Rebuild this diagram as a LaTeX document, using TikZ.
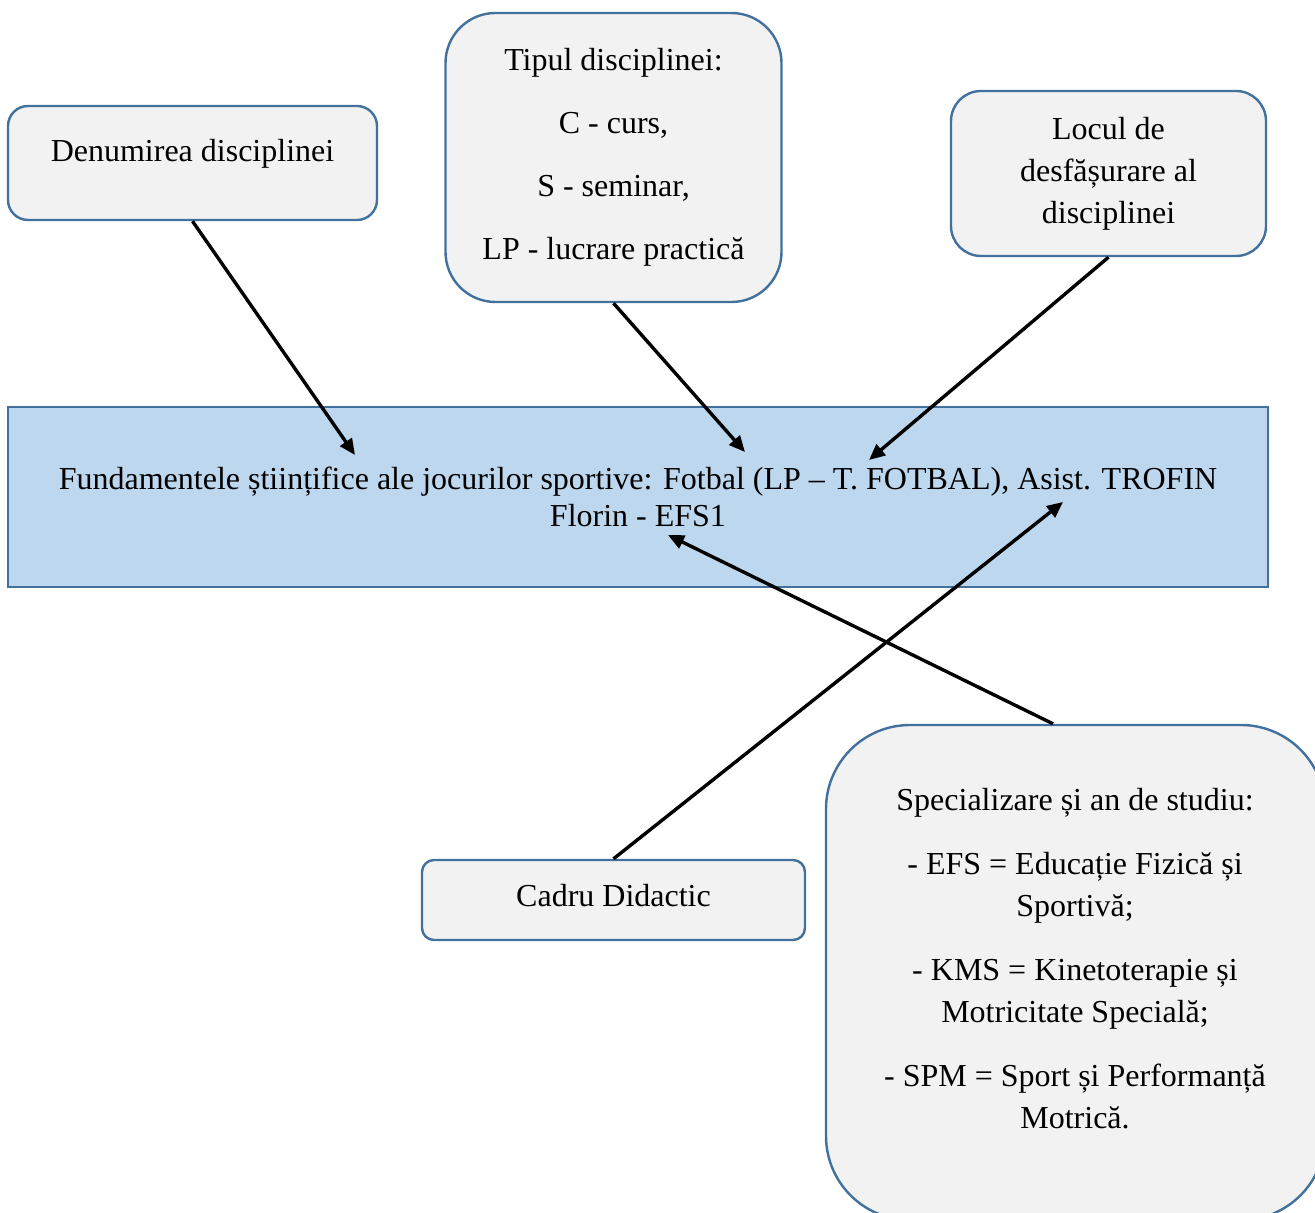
\documentclass[tikz,border=0pt]{standalone}
\usepackage{fontspec}
\setmainfont{Liberation Serif}
\usepackage{xcolor}
\usetikzlibrary{arrows.meta, positioning}
\definecolor{boxline}{HTML}{41719C}
\definecolor{boxfill}{HTML}{F2F2F2}
\definecolor{mainfill}{HTML}{BDD7EE}

\begin{document}
\begin{tikzpicture}[
    x=0.5pt, y=-0.5pt,
    boxtext/.style={align=center, font=\fontsize{16}{21}\selectfont},
    infobox/.style={rectangle, draw=boxline, fill=boxfill, line width=1.2pt, boxtext, inner sep=0pt},
    mainbox/.style={rectangle, draw=boxline, fill=mainfill, line width=1.2pt, align=center, font=\fontsize{16}{18.5}\selectfont},
    arrow/.style={-{Triangle[length=8pt,width=7pt]}, line width=1.7pt}
]
\useasboundingbox (0,0) rectangle (1315,1213);
\clip (0,0) rectangle (1315,1213);

% noduri
\node[infobox, rounded corners=10pt, minimum width=184.5pt, minimum height=57pt, text depth=13pt] (title) at (192.5,163) {Denumirea disciplinei};
\node[infobox, rounded corners=25pt, minimum width=168pt, minimum height=144.5pt] (type) at (613.5,157.5) {Tipul disciplinei:\\[10.5pt] C - curs,\\[10.5pt] S - seminar,\\[10.5pt] LP - lucrare practică};
\node[infobox, rounded corners=15pt, minimum width=157.5pt, minimum height=82.5pt] (place) at (1108.5,173.5) {Locul de\\desfășurare al\\disciplinei};
\node[mainbox, minimum width=630pt, minimum height=90pt] (main) at (638,497) {Fundamentele științifice ale jocurilor sportive: Fotbal (LP – T. FOTBAL), Asist. TROFIN\\Florin - EFS1};
\node[infobox, rounded corners=6pt, minimum width=191.5pt, minimum height=40pt, text depth=5pt] (staff) at (613.5,900) {Cadru Didactic};
\node[infobox, rounded corners=42pt, minimum width=249.5pt, minimum height=247.5pt] (spec) at (1075.5,972.5) {};
\node[boxtext] (specText) at (1075,958.5) {Specializare și an de studiu:\\[11pt] - EFS = Educație Fizică și\\Sportivă;\\[11pt] - KMS = Kinetoterapie și\\Motricitate Specială;\\[11pt] - SPM = Sport și Performanță\\Motrică.};

% capete sageti
\coordinate (titleEnd) at (355,455);
\coordinate (typeEnd) at (745,452);
\coordinate (placeEnd) at (869,460);
\coordinate (specEnd) at (668,535);
\coordinate (staffEnd) at (1063,502);

% sageti
\draw[arrow] (title.south) -- (titleEnd);
\draw[arrow] (type.south) -- (typeEnd);
\draw[arrow] (place.south) -- (placeEnd);
\draw[arrow] ([xshift=-11.25pt]spec.north) -- (specEnd);
\draw[arrow] (staff.north) -- (staffEnd);

\end{tikzpicture}
\end{document}
